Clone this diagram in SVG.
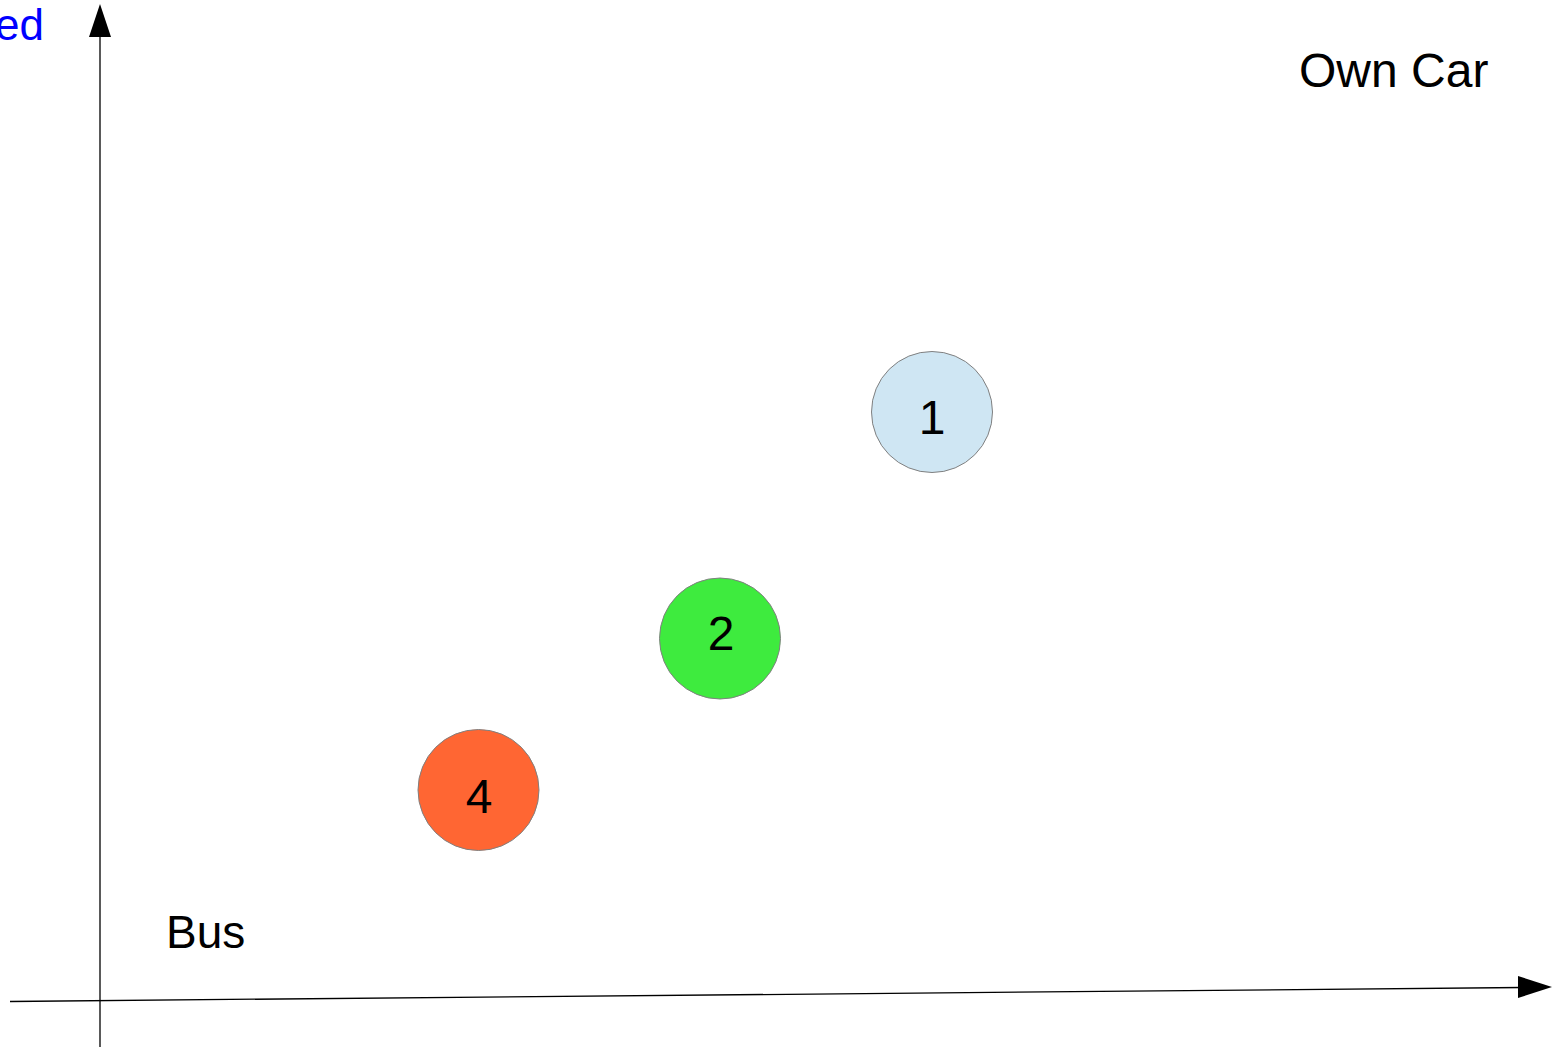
<svg xmlns="http://www.w3.org/2000/svg" width="1556" height="1048" viewBox="0 0 1556 1048">
<style>
.lbl{font-family:"Liberation Sans",Arial,sans-serif;fill:#000}
.node circle{stroke:#808080;stroke-width:1}
.axis{stroke:#000;stroke-width:1.3;fill:none}
.head{fill:#000}
</style>
<rect width="1556" height="1048" fill="#fff"/>
<g id="connectors">
<line class="axis" x1="100" y1="1047" x2="100" y2="34"/>
<polygon class="head" points="100,4 111,37 89,37"/>
<line class="axis" x1="10" y1="1001.5" x2="1522" y2="987.5"/>
<polygon class="head" points="1552,987 1518,976 1518,998"/>
</g>
<g id="label-ed"><text class="lbl" x="44" y="40" font-size="44" text-anchor="end" style="fill:#0000ff">ed</text></g>
<g id="label-owncar"><text class="lbl" x="1299" y="87" font-size="48">Own Car</text></g>
<g id="label-bus"><text class="lbl" x="166" y="948" font-size="46">Bus</text></g>
<g id="node1" class="node">
<circle cx="932" cy="412" r="60.5" fill="#cfe6f3"/>
<text class="lbl" x="932" y="434" font-size="48" text-anchor="middle">1</text>
</g>
<g id="node2" class="node">
<circle cx="720" cy="638.5" r="60.5" fill="#3eeb3e"/>
<text class="lbl" x="721" y="650" font-size="48" text-anchor="middle">2</text>
</g>
<g id="node4" class="node">
<circle cx="478.5" cy="790" r="60.5" fill="#ff6633"/>
<text class="lbl" x="479" y="813" font-size="48" text-anchor="middle">4</text>
</g>
</svg>
